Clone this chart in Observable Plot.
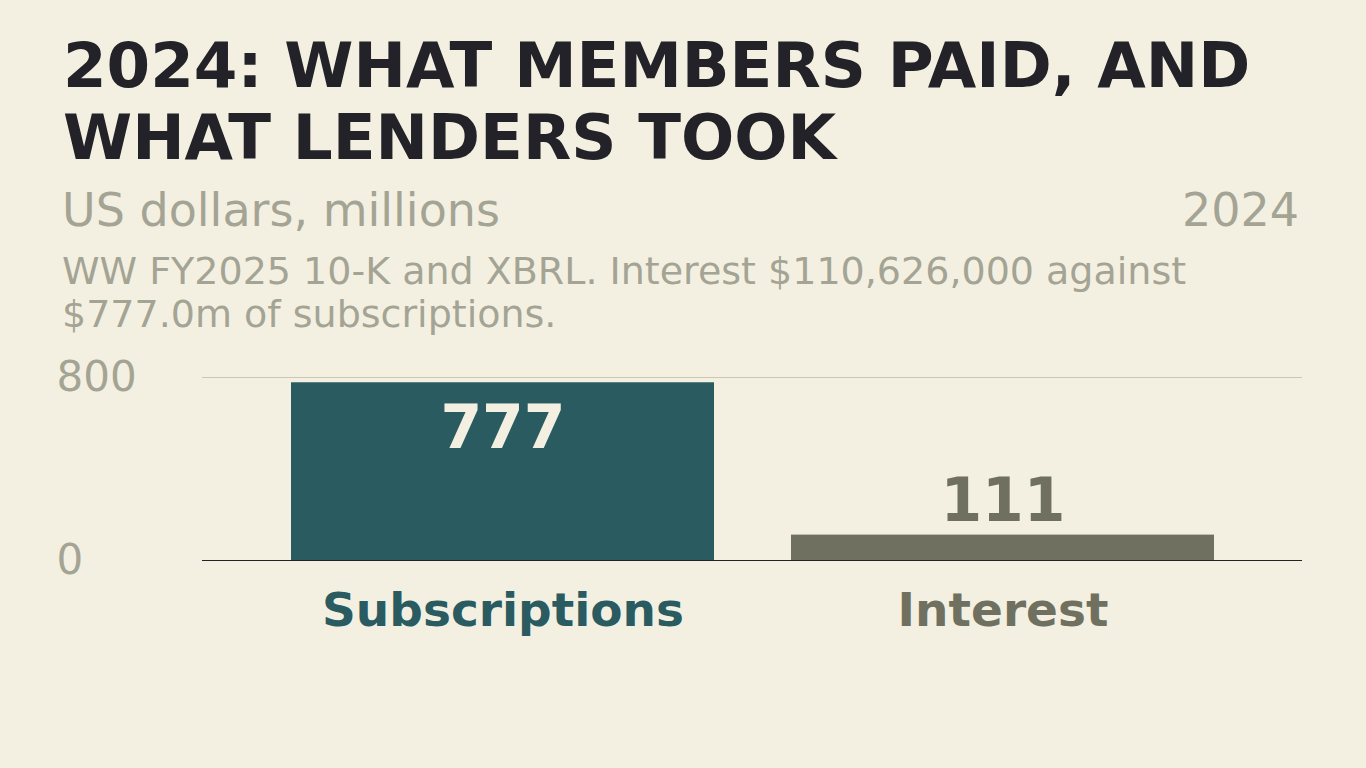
<!DOCTYPE html>
<html>
<head>
<meta charset="utf-8">
<script src="https://cdn.jsdelivr.net/npm/d3@7"></script>
<script src="https://cdn.jsdelivr.net/npm/@observablehq/plot@0.6"></script>
<style>
  html, body { margin: 0; padding: 0; background: #f4f0e1; }
  body { width: 1366px; height: 768px; overflow: hidden; font-family: "DejaVu Sans", sans-serif; }
  #header { position: relative; height: 340px; }
  #title { position: absolute; left: 63px; top: 30px; margin: 0; font-size: 62.7px; line-height: 72px; font-weight: bold; color: #222228; }
  #unit { position: absolute; left: 62px; top: 184px; font-size: 46px; color: #a4a495; line-height: 1.164; }
  #year { position: absolute; right: 67px; top: 184px; font-size: 46px; color: #a4a495; line-height: 1.164; }
  #note { position: absolute; left: 62px; top: 250px; width: 1240px; font-size: 38px; line-height: 43px; color: #a4a495; }
  #chart { display: block; }
</style>
</head>
<body>
<div id="header">
  <h1 id="title">2024: WHAT MEMBERS PAID, AND<br>WHAT LENDERS TOOK</h1>
  <div id="unit">US dollars, millions</div>
  <div id="year">2024</div>
  <div id="note">WW FY2025 10-K and XBRL. Interest $110,626,000 against $777.0m of subscriptions.</div>
</div>
<div id="chart"></div>
<script>
const categories = ["Subscriptions", "Interest"];
const values = [777, 111];
const labels = ["777", "111"];
const barColors = ["#2a5b61", "#6f705f"];
const yTicks = [0, 800];

const data = categories.map((c, i) => ({category: c, value: values[i], label: labels[i]}));

const chart = Plot.plot({
  width: 1366,
  height: 428,
  marginTop: 37,
  marginBottom: 208,
  marginLeft: 202,
  marginRight: 64,
  style: {background: "transparent", fontFamily: "DejaVu Sans, sans-serif"},
  x: {domain: categories, paddingInner: 0.154, paddingOuter: 0.176, axis: null},
  y: {domain: [0, 800], axis: null},
  color: {domain: categories, range: barColors},
  marks: [
    Plot.gridY([800], {stroke: "#cbc6b6", strokeOpacity: 1, strokeWidth: 1.2}),
    Plot.axisY({ticks: yTicks, tickSize: 0, textAnchor: "start", dx: -137, fontSize: 42, fill: "#a4a495", label: null}),
    Plot.barY(data, {x: "category", y: "value", fill: "category"}),
    Plot.ruleY([0], {stroke: "#222228", strokeWidth: 1.2}),
    Plot.text(data.filter(d => d.category === "Subscriptions"), {x: "category", y: "value", text: "label", dy: 46, fontSize: 60, fontWeight: "bold", fill: "#f4f0e1", lineAnchor: "middle"}),
    Plot.text(data.filter(d => d.category === "Interest"), {x: "category", y: "value", text: "label", dy: -33, fontSize: 60, fontWeight: "bold", fill: "#6f705f", lineAnchor: "middle"}),
    Plot.text(data, {x: "category", text: "category", frameAnchor: "bottom", dy: 50, fontSize: 47, fontWeight: "bold", fill: "category", lineAnchor: "middle"})
  ]
});
document.getElementById("chart").append(chart);
</script>
</body>
</html>
